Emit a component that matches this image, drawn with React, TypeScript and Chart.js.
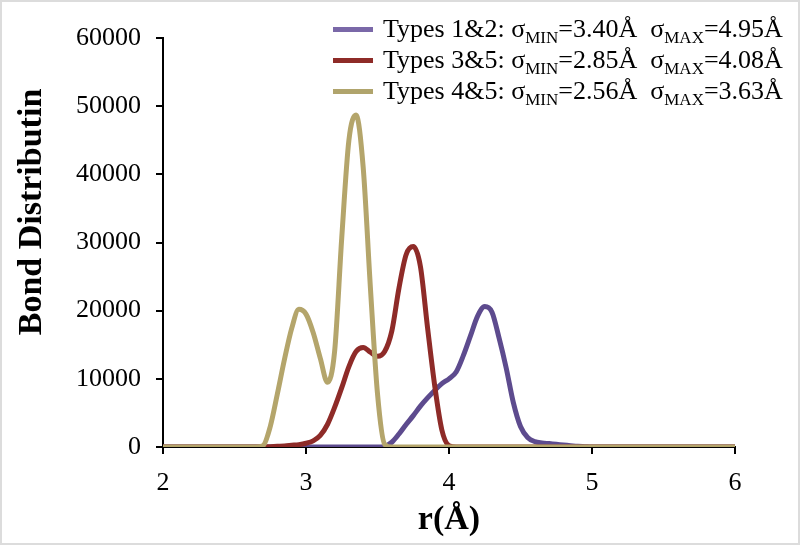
import React, { useEffect, useRef } from "react";
import { Chart, registerables } from "chart.js";

Chart.register(...registerables);

// r (Å) sample positions
const R = [
  2.0, 2.6, 2.65, 2.7, 2.75, 2.8, 2.85, 2.9, 2.95, 3.0, 3.05, 3.1, 3.15, 3.2, 3.25, 3.3, 3.35,
  3.4, 3.45, 3.5, 3.55, 3.6, 3.65, 3.7, 3.75, 3.8, 3.85, 3.9, 3.95, 4.0, 4.05, 4.1, 4.15, 4.2,
  4.25, 4.3, 4.35, 4.4, 4.45, 4.5, 4.55, 4.6, 4.65, 4.7, 4.75, 4.8, 4.85, 4.9, 4.95, 5.0, 6.0,
];

// Types 1&2 (purple)
const TYPES_12 = [
  0, 0, 0, 0, 0, 0, 0, 0, 0, 0, 0, 0, 0, 0, 0, 0, 0,
  0, 0, 0, 100, 700, 1900, 3300, 4600, 6000, 7200, 8300, 9300, 10000, 11000, 13400, 16300, 19200,
  20600, 19800, 16000, 11600, 6500, 3000, 1400, 800, 600, 500, 400, 300, 200, 100, 50, 0, 0,
];

// Types 3&5 (red)
const TYPES_35 = [
  0, 0, 0, 0, 50, 100, 150, 250, 350, 550, 900, 1700, 3300, 5800, 8700, 11800, 14000,
  14600, 13900, 13300, 14000, 17000, 23300, 28200, 29400, 26500, 17500, 9000, 2500, 200, 0, 0, 0, 0,
  0, 0, 0, 0, 0, 0, 0, 0, 0, 0, 0, 0, 0, 0, 0, 0, 0,
];

// Types 4&5 (khaki)
const TYPES_45 = [
  0, 0, 0, 200, 3000, 7800, 12900, 17400, 20200, 19500, 16800, 13000, 9500, 14000, 30700, 45000, 48700,
  41000, 23500, 7800, 400, 0, 0, 0, 0, 0, 0, 0, 0, 0, 0, 0, 0, 0,
  0, 0, 0, 0, 0, 0, 0, 0, 0, 0, 0, 0, 0, 0, 0, 0, 0,
];

const SERIES_LABELS = ["Types 1&2", "Types 3&5", "Types 4&5"];
const SIGMA_MIN = ["3.40", "2.85", "2.56"];
const SIGMA_MAX = ["4.95", "4.08", "3.63"];
const COLORS = ["#5d4b8e", "#8e2b28", "#b4a56b"];
const LEGEND_COLORS = ["#7a68a8", "#8e2b28", "#b0a46c"];
const SERIES_VALUES = [TYPES_12, TYPES_35, TYPES_45];

const X_MIN = 2;
const X_MAX = 6;
const X_STEP = 1;
const Y_MIN = 0;
const Y_MAX = 60000;
const Y_STEP = 10000;

const SERIF = "'Liberation Serif', 'Times New Roman', serif";

export default function App() {
  const canvasRef = useRef<HTMLCanvasElement | null>(null);

  useEffect(() => {
    document.body.style.margin = "0";
    const canvas = canvasRef.current;
    if (!canvas) return;
    const datasets = SERIES_VALUES.map((vals, i) => ({
      label: SERIES_LABELS[i],
      data: R.map((r, j) => ({ x: r, y: vals[j] })),
      borderColor: COLORS[i],
      backgroundColor: COLORS[i],
      borderWidth: 5,
      pointRadius: 0,
      fill: false,
      cubicInterpolationMode: "monotone" as const,
      order: 3 - i,
    }));

    const chart = new Chart(canvas, {
      type: "line",
      data: { datasets },
      options: {
        animation: false,
        responsive: false,
        devicePixelRatio: 1,
        layout: { padding: { top: 38, right: 65, left: 0, bottom: 0 } },
        plugins: {
          legend: { display: false },
          tooltip: { enabled: false },
        },
        scales: {
          x: {
            type: "linear",
            min: X_MIN,
            max: X_MAX,
            ticks: {
              stepSize: X_STEP,
              color: "#000",
              font: { family: SERIF, size: 26 },
              padding: 14,
              callback: (v: any) => String(v),
            },
            grid: {
              drawOnChartArea: false,
              drawTicks: true,
              tickLength: 7,
              color: "#000",
              lineWidth: 2,
            },
            border: { display: true, color: "#000", width: 2 },
            afterFit: (s: any) => {
              s.height = 98;
            },
          },
          y: {
            type: "linear",
            min: Y_MIN,
            max: Y_MAX,
            ticks: {
              stepSize: Y_STEP,
              color: "#000",
              font: { family: SERIF, size: 26 },
              padding: 15,
              callback: (v: any) => String(v),
            },
            grid: {
              drawOnChartArea: false,
              drawTicks: true,
              tickLength: 7,
              color: "#000",
              lineWidth: 2,
            },
            border: { display: true, color: "#000", width: 2 },
            afterFit: (s: any) => {
              s.width = 163;
            },
          },
        },
      },
    });
    return () => chart.destroy();
  }, []);

  return (
    <div
      style={{
        position: "relative",
        width: 800,
        height: 545,
        background: "#fff",
        fontFamily: SERIF,
        overflow: "hidden",
      }}
    >
      <canvas
        ref={canvasRef}
        width={800}
        height={545}
        style={{ position: "absolute", left: 0, top: 0, width: 800, height: 545 }}
      />
      <div
        style={{
          position: "absolute",
          left: 0,
          top: 0,
          width: 800,
          height: 545,
          boxSizing: "border-box",
          border: "2px solid #dcdcdc",
          pointerEvents: "none",
        }}
      />
      <div
        style={{
          position: "absolute",
          left: 30,
          top: 212,
          transform: "translate(-50%, -50%) rotate(-90deg)",
          fontWeight: "bold",
          fontSize: 34,
          whiteSpace: "nowrap",
          color: "#000",
          lineHeight: 1,
        }}
      >
        Bond Distributin
      </div>
      <div
        style={{
          position: "absolute",
          left: 449,
          top: 518,
          transform: "translate(-50%, -50%)",
          fontWeight: "bold",
          fontSize: 34,
          whiteSpace: "nowrap",
          color: "#000",
          lineHeight: 1,
        }}
      >
        r(Å)
      </div>
      <div style={{ position: "absolute", left: 333, top: 14 }}>
        {SERIES_LABELS.map((lab, i) => (
          <div
            key={lab}
            style={{
              display: "flex",
              alignItems: "center",
              height: 31,
              whiteSpace: "nowrap",
              fontSize: 26,
              color: "#000",
            }}
          >
            <span
              style={{
                display: "inline-block",
                width: 40,
                height: 5,
                background: LEGEND_COLORS[i],
                marginRight: 10,
              }}
            />
            <span style={{ lineHeight: "31px" }}>
              {lab}: σ
              <span style={{ fontSize: 17, position: "relative", top: 6 }}>MIN</span>
              ={SIGMA_MIN[i]}Å{"\u00a0\u00a0"}σ
              <span style={{ fontSize: 17, position: "relative", top: 6 }}>MAX</span>
              ={SIGMA_MAX[i]}Å
            </span>
          </div>
        ))}
      </div>
    </div>
  );
}
